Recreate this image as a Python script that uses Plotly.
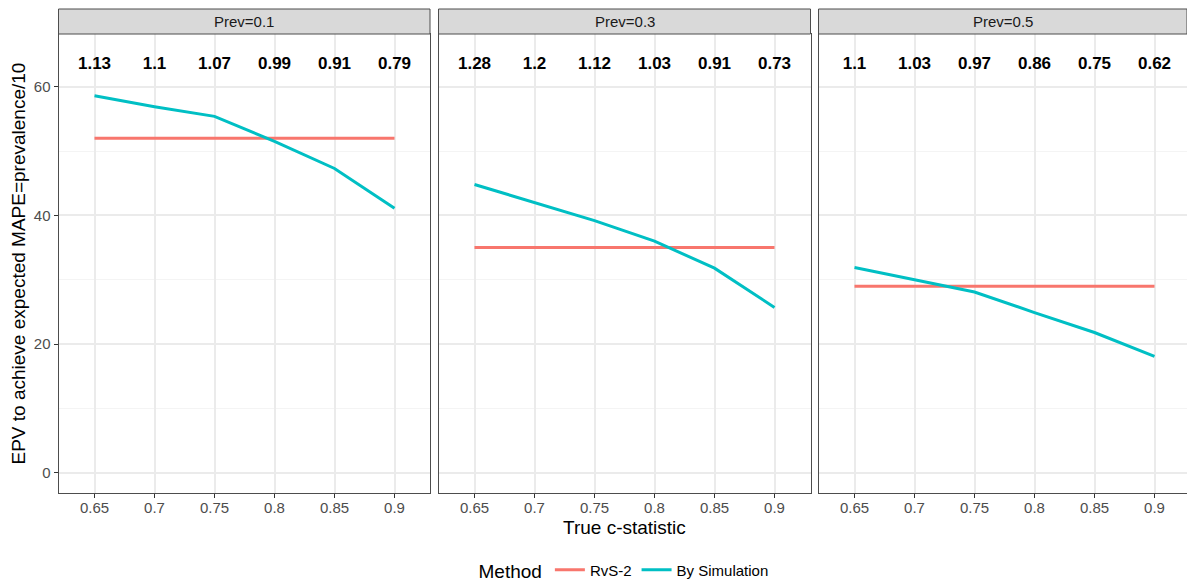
import plotly.graph_objects as go

# ---- data ----
c_stat = [0.65, 0.7, 0.75, 0.8, 0.85, 0.9]
c_stat_labels = ["0.65", "0.7", "0.75", "0.8", "0.85", "0.9"]
prev_labels = ["Prev=0.1", "Prev=0.3", "Prev=0.5"]
rvs2_epv = [52, 35, 29]
sim_prev01 = [58.6, 56.9, 55.4, 51.5, 47.3, 41.1]
sim_prev03 = [44.8, 42.0, 39.2, 36.0, 31.8, 25.7]
sim_prev05 = [31.9, 30.0, 28.1, 24.9, 21.8, 18.1]
ratio_prev01 = ["1.13", "1.1", "1.07", "0.99", "0.91", "0.79"]
ratio_prev03 = ["1.28", "1.2", "1.12", "1.03", "0.91", "0.73"]
ratio_prev05 = ["1.1", "1.03", "0.97", "0.86", "0.75", "0.62"]
y_ticks = [0, 20, 40, 60]
label_y = 63.4

sims = [sim_prev01, sim_prev03, sim_prev05]
ratios = [ratio_prev01, ratio_prev03, ratio_prev05]

# ---- layout geometry ----
W, H = 1187, 584
FONT = "Liberation Sans, Arial, sans-serif"
RED = "#F8766D"
TEAL = "#00BFC4"
panel_px = [(58.5, 430.0), (438.5, 810.5), (818.5, 1187.0)]
px_per_unit = 1200.0
x_left = 0.62
panel_top_px, panel_bot_px = 34.0, 493.0
strip_top_px = 9.0
ydom = [(H - panel_bot_px) / H, (H - panel_top_px) / H]
yrange = [-3.15, 68.2]

fig = go.Figure()
layout = dict(
    width=W, height=H,
    margin=dict(l=0, r=0, t=0, b=0, pad=0, autoexpand=False),
    paper_bgcolor="white", plot_bgcolor="white",
    font=dict(family=FONT, color="#000000"),
    showlegend=True,
)
shapes = []
annotations = []

for i in range(3):
    sfx = "" if i == 0 else str(i + 1)
    xa, ya = "x" + sfx, "y" + sfx
    x0p, x1p = panel_px[i]
    dom = [x0p / W, x1p / W]
    xr = [x_left, x_left + (x1p - x0p) / px_per_unit]

    fig.add_trace(go.Scatter(
        x=c_stat, y=[rvs2_epv[i]] * len(c_stat), mode="lines",
        line=dict(color=RED, width=3), name="RvS-2", legendgroup="rvs",
        showlegend=(i == 0), xaxis=xa, yaxis=ya, hoverinfo="skip"))
    fig.add_trace(go.Scatter(
        x=c_stat, y=sims[i], mode="lines",
        line=dict(color=TEAL, width=3), name="By Simulation", legendgroup="sim",
        showlegend=(i == 0), xaxis=xa, yaxis=ya, hoverinfo="skip"))
    fig.add_trace(go.Scatter(
        x=c_stat, y=[label_y] * len(c_stat), mode="text", text=ratios[i],
        textfont=dict(family=FONT, size=17, color="#000000", weight="bold"),
        showlegend=False, xaxis=xa, yaxis=ya, cliponaxis=False, hoverinfo="skip"))

    layout["xaxis" + sfx] = dict(
        domain=dom, range=xr, anchor=ya,
        tickmode="array", tickvals=c_stat, ticktext=c_stat_labels,
        showgrid=True, gridcolor="#EBEBEB", gridwidth=1.6,
        zeroline=False, showline=True, linecolor="#4D4D4D", linewidth=1, mirror=True,
        ticks="outside", ticklen=4, tickcolor="#333333", tickwidth=1,
        ticklabelstandoff=-3,
        tickfont=dict(family=FONT, size=15, color="#4D4D4D"),
        automargin=False,
    )
    layout["yaxis" + sfx] = dict(
        domain=ydom, range=yrange, anchor=xa,
        tickmode="array", tickvals=y_ticks,
        showgrid=True, gridcolor="#EBEBEB", gridwidth=1.6,
        minor=dict(tickmode="array", tickvals=[10, 30, 50], showgrid=True,
                   gridcolor="#F4F4F4", gridwidth=0.9, ticks=""),
        zeroline=False, showline=True, linecolor="#4D4D4D", linewidth=1, mirror=True,
        ticks="outside" if i == 0 else "", ticklen=4, tickcolor="#333333", tickwidth=1,
        showticklabels=(i == 0),
        tickfont=dict(family=FONT, size=15, color="#4D4D4D"),
        automargin=False,
    )

    shapes.append(dict(
        type="rect", xref="paper", yref="paper",
        x0=dom[0], x1=dom[1], y0=ydom[1], y1=(H - strip_top_px) / H,
        fillcolor="#D9D9D9", line=dict(color="#4D4D4D", width=1), layer="above"))
    annotations.append(dict(
        xref="paper", yref="paper", x=(dom[0] + dom[1]) / 2,
        y=(ydom[1] + (H - strip_top_px) / H) / 2,
        text=prev_labels[i], showarrow=False, xanchor="center", yanchor="middle",
        font=dict(family=FONT, size=15, color="#1A1A1A")))

annotations.append(dict(
    xref="paper", yref="paper", x=624 / W, y=(H - 527) / H,
    text="True c-statistic", showarrow=False, xanchor="center", yanchor="middle",
    font=dict(family=FONT, size=19, color="#000000")))
annotations.append(dict(
    xref="paper", yref="paper", x=18 / W, y=(H - 263.5) / H, textangle=-90,
    text="EPV to achieve expected MAPE=prevalence/10", showarrow=False,
    xanchor="center", yanchor="middle",
    font=dict(family=FONT, size=19, color="#000000")))

layout["shapes"] = shapes
layout["annotations"] = annotations
layout["legend"] = dict(
    orientation="h", x=625 / W, xanchor="center", y=(H - 571) / H, yanchor="middle",
    title=dict(text="Method", font=dict(family=FONT, size=19, color="#000000")),
    font=dict(family=FONT, size=15, color="#000000"),
    itemwidth=30, bgcolor="rgba(0,0,0,0)")

fig.update_layout(**layout)
fig.write_html("out.html")
